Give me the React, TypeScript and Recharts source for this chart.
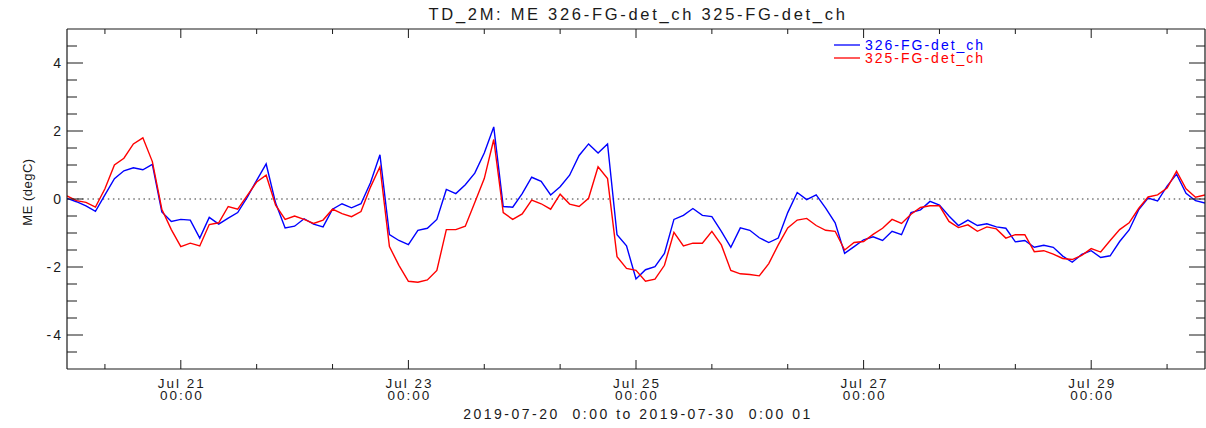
import React from 'react';
import { LineChart, Line, XAxis, YAxis, ReferenceLine, Legend } from 'recharts';

// time axis: hours since 2019-07-20 00:00, every 2 hours
const hours: number[] = Array.from({ length: 121 }, (_, i) => i * 2);

// ME (degC) for 326-FG-det_ch (blue)
const series326: number[] = [
  0.02, -0.08, -0.2, -0.36, 0.12, 0.6, 0.83, 0.92, 0.86, 1.02,
  -0.38, -0.66, -0.6, -0.62, -1.15, -0.54, -0.74, -0.56, -0.4, 0.05,
  0.55, 1.03, -0.12, -0.85, -0.8, -0.58, -0.74, -0.82, -0.3, -0.14,
  -0.26, -0.14, 0.48, 1.3, -1.05, -1.22, -1.34, -0.92, -0.86, -0.6,
  0.28, 0.16, 0.42, 0.76, 1.35, 2.12, -0.22, -0.24, 0.16, 0.64,
  0.52, 0.12, 0.36, 0.7, 1.28, 1.62, 1.35, 1.62, -1.05, -1.38,
  -2.35, -2.08, -1.99, -1.6, -0.6, -0.48, -0.28, -0.48, -0.52, -0.95,
  -1.42, -0.85, -0.92, -1.14, -1.28, -1.15, -0.4, 0.19, -0.02, 0.12,
  -0.27, -0.7, -1.6, -1.4, -1.2, -1.11, -1.22, -0.95, -1.05, -0.4,
  -0.32, -0.07, -0.18, -0.5, -0.78, -0.62, -0.78, -0.73, -0.82, -0.86,
  -1.26, -1.22, -1.42, -1.36, -1.42, -1.68, -1.86, -1.63, -1.52, -1.72,
  -1.67, -1.25, -0.91, -0.32, 0.03, -0.06, 0.38, 0.73, 0.17, -0.05,
  -0.12,
];

// ME (degC) for 325-FG-det_ch (red)
const series325: number[] = [
  0.09, -0.05, -0.1, -0.24, 0.3, 1.0, 1.2, 1.62, 1.8, 1.1,
  -0.3, -0.9, -1.4, -1.3, -1.38, -0.75, -0.7, -0.22, -0.3, 0.1,
  0.5, 0.7, -0.18, -0.6, -0.5, -0.6, -0.72, -0.62, -0.3, -0.43,
  -0.52, -0.37, 0.35, 0.95, -1.4, -1.95, -2.42, -2.45, -2.38, -2.1,
  -0.9, -0.9, -0.8, -0.1, 0.6, 1.75, -0.4, -0.6, -0.44, -0.03,
  -0.14, -0.3, 0.14, -0.15, -0.22, 0.02, 0.95, 0.6, -1.7, -2.04,
  -2.1, -2.42, -2.36, -1.95, -0.98, -1.38, -1.3, -1.3, -0.95, -1.35,
  -2.1, -2.2, -2.22, -2.26, -1.9, -1.35, -0.85, -0.62, -0.57, -0.78,
  -0.92, -0.95, -1.5, -1.28, -1.25, -1.04, -0.86, -0.6, -0.72, -0.45,
  -0.25, -0.2, -0.2, -0.66, -0.84, -0.76, -0.95, -0.82, -0.88, -1.15,
  -1.05, -1.05, -1.55, -1.52, -1.62, -1.75, -1.78, -1.66, -1.46, -1.56,
  -1.22, -0.9, -0.7, -0.28, 0.06, 0.12, 0.32, 0.82, 0.3, 0.05,
  0.12,
];

const seriesNames = ['326-FG-det_ch', '325-FG-det_ch'];
const seriesColors = ['#0000ff', '#ff0000'];

const xTickHours = [8, 24, 40, 56, 72, 88, 104, 120, 136, 152, 168, 184, 200, 216, 232];
const xLabelHours = [24, 72, 120, 168, 216];
const xLabelDates = ['Jul 21', 'Jul 23', 'Jul 25', 'Jul 27', 'Jul 29'];
const xLabelTimes = ['00:00', '00:00', '00:00', '00:00', '00:00'];

const yTicks = [-4.5, -4, -3.5, -3, -2.5, -2, -1.5, -1, -0.5, 0, 0.5, 1, 1.5, 2, 2.5, 3, 3.5, 4, 4.5];
const yLabelValues = [-4, -2, 0, 2, 4];

const titleText = 'TD_2M: ME 326-FG-det_ch 325-FG-det_ch';
const yTitleText = 'ME (degC)';
const rangeText = '2019-07-20  0:00 to 2019-07-30  0:00 01';

const data = hours.map((h, i) => ({ h, s326: series326[i], s325: series325[i] }));

const INK = '#1a1a1a';
const FONT = '"Liberation Sans", Arial, Helvetica, sans-serif';

const BottomTick = (props: any) => {
  const { x, y, payload } = props;
  const idx = xLabelHours.indexOf(payload.value);
  const major = idx >= 0;
  return (
    <g>
      <line x1={x} x2={x} y1={y} y2={y - (major ? 9 : 5)} stroke={INK} strokeWidth={1} />
      {major && (
        <text fontFamily={FONT} fontSize={13.5} fill={INK} textAnchor="middle" letterSpacing={2}>
          <tspan x={x + 1} y={y + 18.5}>{xLabelDates[idx]}</tspan>
          <tspan x={x + 1} y={y + 31}>{xLabelTimes[idx]}</tspan>
        </text>
      )}
    </g>
  );
};

const TopTick = (props: any) => {
  const { x, y, payload } = props;
  const major = xLabelHours.indexOf(payload.value) >= 0;
  return <line x1={x} x2={x} y1={y} y2={y + (major ? 9 : 5)} stroke={INK} strokeWidth={1} />;
};

const LeftTick = (props: any) => {
  const { x, y, payload } = props;
  const major = yLabelValues.indexOf(payload.value) >= 0;
  return (
    <g>
      <line x1={x} x2={x + (major ? 16 : 10)} y1={y} y2={y} stroke={INK} strokeWidth={1} />
      {major && (
        <text x={x - 4} y={y + 5} fontFamily={FONT} fontSize={14} fill={INK} textAnchor="end" letterSpacing={2}>
          {String(payload.value)}
        </text>
      )}
    </g>
  );
};

const RightTick = (props: any) => {
  const { x, y, payload } = props;
  const major = yLabelValues.indexOf(payload.value) >= 0;
  return <line x1={x} x2={x - (major ? 16 : 9)} y1={y} y2={y} stroke={INK} strokeWidth={1} />;
};

const renderLegend = () => (
  <svg width={190} height={34} style={{ display: 'block', overflow: 'visible' }}>
    {seriesNames.map((name, i) => (
      <g key={name}>
        <line x1={6} x2={32} y1={9 + i * 13} y2={9 + i * 13} stroke={seriesColors[i]} strokeWidth={1.3} />
        <text x={37} y={14 + i * 13} fill={seriesColors[i]} fontFamily={FONT} fontSize={14} letterSpacing={2}>
          {name}
        </text>
      </g>
    ))}
  </svg>
);

export default function App() {
  return (
    <div style={{ position: 'absolute', left: 0, top: 0, width: 1206, height: 428, background: '#ffffff' }}>
      <LineChart width={1206} height={428} data={data} margin={{ top: 0, right: 0, bottom: 0, left: 0 }}>
        <XAxis
          xAxisId="b"
          dataKey="h"
          type="number"
          domain={[0, 240]}
          ticks={xTickHours}
          interval={0}
          tickSize={0}
          tickMargin={0}
          tickLine={false}
          tick={(p: any) => <BottomTick {...p} />}
          axisLine={{ stroke: INK, strokeWidth: 1.2 }}
          height={59}
          allowDataOverflow
        />
        <XAxis
          xAxisId="t"
          orientation="top"
          dataKey="h"
          type="number"
          domain={[0, 240]}
          ticks={xTickHours}
          interval={0}
          tickSize={0}
          tickMargin={0}
          tickLine={false}
          tick={(p: any) => <TopTick {...p} />}
          axisLine={{ stroke: INK, strokeWidth: 1.2 }}
          height={29}
          allowDataOverflow
        />
        <YAxis
          yAxisId="l"
          type="number"
          domain={[-5, 5]}
          ticks={yTicks}
          interval={0}
          tickSize={0}
          tickMargin={0}
          tickLine={false}
          tick={(p: any) => <LeftTick {...p} />}
          axisLine={{ stroke: INK, strokeWidth: 1.2 }}
          width={67}
          allowDataOverflow
        />
        <YAxis
          yAxisId="r"
          orientation="right"
          type="number"
          domain={[-5, 5]}
          ticks={yTicks}
          interval={0}
          tickSize={0}
          tickMargin={0}
          tickLine={false}
          tick={(p: any) => <RightTick {...p} />}
          axisLine={{ stroke: INK, strokeWidth: 1.2 }}
          width={1}
          allowDataOverflow
        />
        <ReferenceLine xAxisId="b" yAxisId="l" y={0} stroke="#333333" strokeWidth={1.2} strokeDasharray="1.5 3.6" />
        <Line
          xAxisId="b"
          yAxisId="l"
          type="linear"
          dataKey="s326"
          name={seriesNames[0]}
          stroke={seriesColors[0]}
          strokeWidth={1.4}
          dot={false}
          activeDot={false}
          isAnimationActive={false}
        />
        <Line
          xAxisId="b"
          yAxisId="l"
          type="linear"
          dataKey="s325"
          name={seriesNames[1]}
          stroke={seriesColors[1]}
          strokeWidth={1.4}
          dot={false}
          activeDot={false}
          isAnimationActive={false}
        />
        <Legend
          layout="vertical"
          align="center"
          verticalAlign="middle"
          content={renderLegend}
          wrapperStyle={{ position: 'absolute', left: 828, top: 36, width: 190, height: 34 }}
        />
      </LineChart>
      <svg
        width={1206}
        height={428}
        style={{ position: 'absolute', left: 0, top: 0, pointerEvents: 'none' }}
      >
        <text x={638} y={20} textAnchor="middle" fontFamily={FONT} fontSize={16.5} letterSpacing={2.7} fill={INK}>
          {titleText}
        </text>
        <text
          x={638}
          y={419}
          textAnchor="middle"
          fontFamily={FONT}
          fontSize={14}
          letterSpacing={2.5}
          fill={INK}
          style={{ whiteSpace: 'pre' }}
        >
          {rangeText}
        </text>
        <text
          x={32}
          y={192}
          textAnchor="middle"
          fontFamily={FONT}
          fontSize={13}
          letterSpacing={0.5}
          fill={INK}
          transform="rotate(-90 32 192)"
        >
          {yTitleText}
        </text>
      </svg>
    </div>
  );
}
